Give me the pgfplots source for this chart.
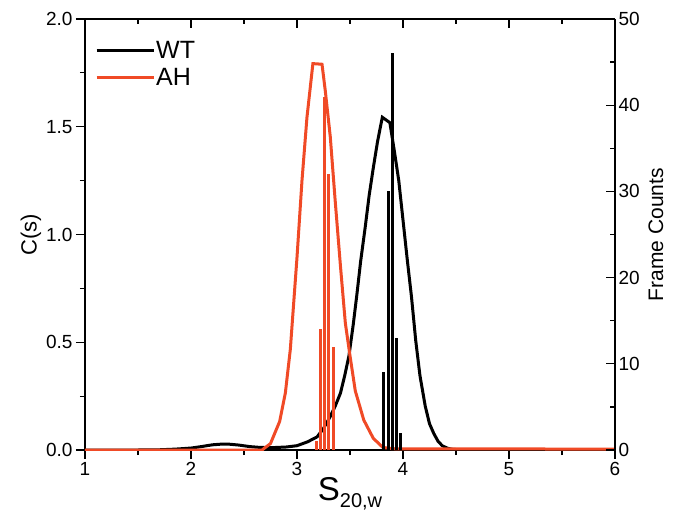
\documentclass[border=0pt]{standalone}
\usepackage{fontspec}
\setmainfont{Liberation Sans}
\usepackage{pgfplots}
\pgfplotsset{compat=1.18}
\definecolor{ahred}{RGB}{240,74,38}

\begin{document}
\begin{tikzpicture}
\begin{axis}[name=ax, scale only axis, width=530pt, height=431pt,
  xmin=1, xmax=6, ymin=0, ymax=2,
  axis x line*=bottom, axis y line*=left,
  tick align=outside,
  xtick={1,2,3,4,5,6}, minor x tick num=1,
  ytick={0,0.5,1,1.5,2}, minor y tick num=1,
  yticklabel style={/pgf/number format/.cd, fixed, fixed zerofill, precision=1},
  major tick length=9pt, minor tick length=5pt,
  tick style={black, line width=1.2pt},
  axis line style={line width=1.2pt},
  ticklabel style={font=\fontsize{19}{21}\selectfont},
  /pgf/number format/assume math mode=true,
  xlabel={S{\fontsize{20}{22}\selectfont\raisebox{-7pt}{20,w}}},
  xlabel style={font=\fontsize{33}{35}\selectfont, yshift=5pt},
  ylabel={C(s)}, ylabel style={font=\fontsize{22}{24}\selectfont},
  ylabel shift=-2pt,
  legend style={draw=none, fill=none, at={(0,1)}, anchor=north west,
    xshift=7pt, yshift=-19pt, font=\fontsize{25}{28}\selectfont, row sep=6pt,
    nodes={inner sep=1pt}},
  legend cell align=left,
  legend image code/.code={\draw[#1, line width=3pt] (0pt,0pt) -- (57pt,0pt);},
]
\addplot[black, line width=3pt] coordinates {
(1.0,0) (1.5,0) (1.7,0.001) (1.85,0.004) (2.0,0.009) (2.1,0.016) (2.2,0.024)
(2.28,0.027) (2.36,0.027) (2.45,0.023) (2.55,0.016) (2.65,0.012) (2.77,0.011)
(2.9,0.014) (3.0,0.02) (3.1,0.038) (3.19,0.061) (3.25,0.1) (3.31,0.152) (3.36,0.203)
(3.41,0.264) (3.45,0.345) (3.49,0.437) (3.53,0.58) (3.566,0.726) (3.6,0.874)
(3.644,1.036) (3.68,1.179) (3.72,1.31) (3.76,1.432) (3.805,1.544) (3.876,1.519)
(3.92,1.382) (3.96,1.25) (4.0,1.067) (4.04,0.884) (4.08,0.711) (4.12,0.508) (4.16,0.345)
(4.21,0.203) (4.25,0.122) (4.29,0.077) (4.33,0.041) (4.37,0.02) (4.42,0.008)
(4.47,0.003) (4.55,0.001) (5,0) (6,0)};
\addlegendentry{WT}
\addplot[ahred, line width=3pt] coordinates {
(1,0) (2.0,0) (2.67,0) (2.75,0.03) (2.836,0.132) (2.89,0.264) (2.937,0.467)
(3.0,0.894) (3.047,1.25) (3.094,1.544) (3.15,1.793) (3.236,1.79) (3.267,1.666)
(3.314,1.453) (3.36,1.158) (3.41,0.853) (3.456,0.589) (3.497,0.447) (3.55,0.274)
(3.63,0.139) (3.72,0.054) (3.81,0.012) (3.9,0.006) (4.0,0.005) (5,0.005) (6,0.004)};
\addlegendentry{AH}
\end{axis}
\begin{axis}[scale only axis, width=530pt, height=431pt,
  xmin=1, xmax=6, ymin=0, ymax=50,
  axis x line*=top, axis y line*=right,
  tick align=inside,
  xtick={1,2,3,4,5,6}, minor x tick num=1, xticklabels={},
  ytick={0,10,20,30,40,50}, minor y tick num=1,
  major tick length=9pt, minor tick length=5pt,
  tick style={black, line width=1.2pt},
  axis line style={line width=1.2pt},
  ticklabel style={font=\fontsize{19}{21}\selectfont},
  /pgf/number format/assume math mode=true,
  ylabel={Frame Counts}, ylabel style={font=\fontsize{21}{23}\selectfont},
  ylabel shift=2pt,
]
\addplot[ycomb, black, line width=3pt] coordinates {
(3.82,9) (3.86,30) (3.90,46) (3.94,13) (3.98,2)};
\addplot[ycomb, ahred, line width=3pt] coordinates {
(3.18,1) (3.22,14) (3.26,41) (3.30,32) (3.34,12)};
\end{axis}
\pgfresetboundingbox
\path[use as bounding box] ([xshift=-85pt,yshift=-64pt]ax.south west) rectangle ([xshift=61pt,yshift=19pt]ax.north east);
\end{tikzpicture}
\end{document}
